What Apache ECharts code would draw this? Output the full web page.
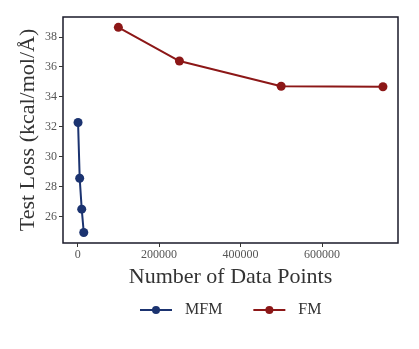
<!DOCTYPE html>
<html>
<head>
<meta charset="utf-8">
<script src="https://cdn.jsdelivr.net/npm/echarts@6/dist/echarts.min.js"></script>
<style>
  html, body { margin: 0; padding: 0; background: #fff; }
  #chart { width: 419px; height: 349px; }
</style>
</head>
<body>
<div id="chart"></div>
<script>
// data
const mfmX = [1000, 5000, 10000, 15000];
const mfmY = [32.27, 28.55, 26.48, 24.92];
const fmX = [100000, 250000, 500000, 750000];
const fmY = [38.63, 36.38, 34.69, 34.66];
const xTicks = [0, 200000, 400000, 600000];
const yTicks = [26, 28, 30, 32, 34, 36, 38];

const font = "'Liberation Serif', 'DejaVu Serif', serif";
const navy = "#1b3370";
const red = "#8c1717";

const pairs = (xs, ys) => xs.map((x, i) => [x, ys[i]]);

const myChart = echarts.init(document.getElementById("chart"));
const option = {
  animation: false,
  textStyle: { fontFamily: font },
  grid: {
    left: 63, right: 21, top: 17, bottom: 106,
    show: true, borderColor: "#1a1a2a", borderWidth: 1.5,
  },
  xAxis: {
    type: "value",
    min: -36000,
    max: 787000,
    name: "Number of Data Points",
    nameLocation: "middle",
    nameGap: 23,
    nameTextStyle: { fontFamily: font, fontSize: 22, color: "#333" },
    axisLine: { show: false, onZero: false },
    axisTick: { show: true, length: 4, lineStyle: { color: "#333" }, customValues: xTicks },
    axisLabel: {
      fontFamily: font, fontSize: 12, color: "#555", margin: 6,
      customValues: xTicks, formatter: (v) => String(v),
    },
    splitLine: { show: false },
  },
  yAxis: {
    type: "value",
    min: 24.22,
    max: 39.32,
    name: "Test Loss (kcal/mol/Å)",
    nameLocation: "middle",
    nameGap: 24,
    nameMoveOverlap: false,
    nameTextStyle: { fontFamily: font, fontSize: 22, color: "#333" },
    axisLine: { show: false, onZero: false },
    axisTick: { show: true, length: 4, lineStyle: { color: "#333" }, customValues: yTicks },
    axisLabel: {
      fontFamily: font, fontSize: 12, color: "#555", margin: 6,
      customValues: yTicks, formatter: (v) => String(v),
    },
    splitLine: { show: false },
  },
  legend: {
    top: 297,
    left: 134,
    itemWidth: 32,
    itemHeight: 10,
    itemGap: 30,
    textStyle: { fontFamily: font, fontSize: 16, color: "#333", padding: [0, 0, 0, 8] },
    data: ["MFM", "FM"],
  },
  series: [
    {
      name: "MFM",
      type: "line",
      data: pairs(mfmX, mfmY),
      symbol: "circle",
      symbolSize: 9,
      color: navy,
      lineStyle: { width: 2 },
    },
    {
      name: "FM",
      type: "line",
      data: pairs(fmX, fmY),
      symbol: "circle",
      symbolSize: 9,
      color: red,
      lineStyle: { width: 2 },
    },
  ],
};
myChart.setOption(option);
</script>
</body>
</html>
